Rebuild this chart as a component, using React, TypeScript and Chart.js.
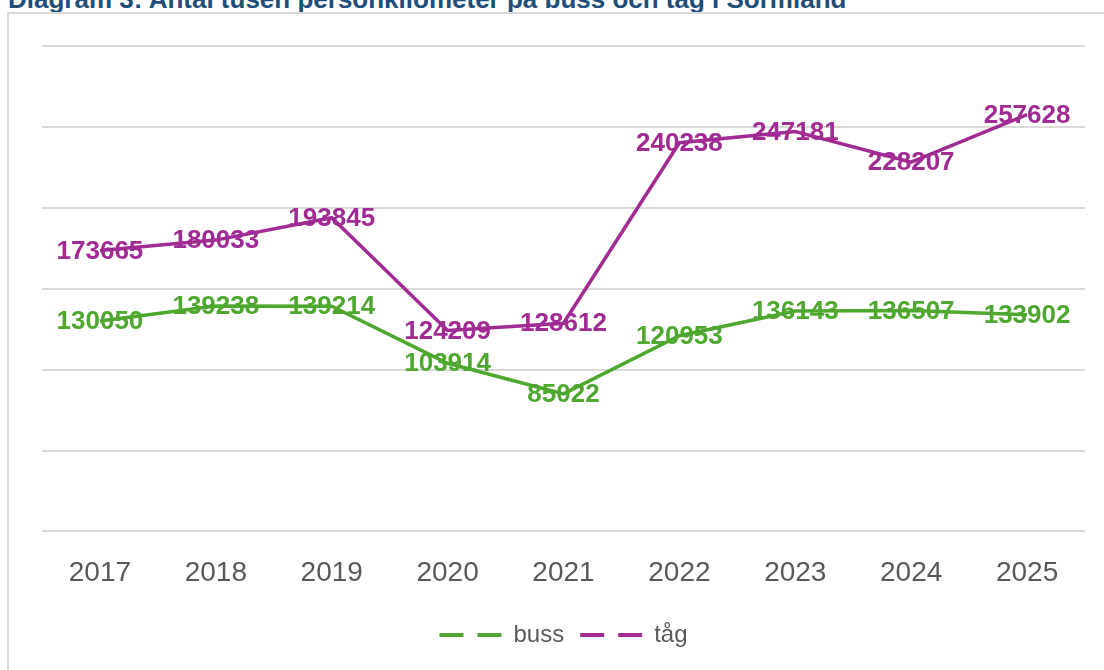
import React, { useEffect, useRef } from "react";
import { Chart, registerables } from "chart.js";

Chart.register(...registerables);

const years = ["2017", "2018", "2019", "2020", "2021", "2022", "2023", "2024", "2025"];
const buss = [130050, 139238, 139214, 103914, 85022, 120953, 136143, 136507, 133902];
const tag = [173665, 180033, 193845, 124209, 128612, 240238, 247181, 228207, 257628];
const seriesNames = ["buss", "tåg"];
const seriesColors = ["#4EA72E", "#A02B93"];
const titleText = "Diagram 3: Antal tusen personkilometer på buss och tåg i Sörmland";

const labelPlugin = {
  id: "valueLabels",
  afterDatasetsDraw(chart: any) {
    const ctx = chart.ctx;
    ctx.save();
    ctx.font = "bold 26px 'Liberation Sans', Arial, sans-serif";
    ctx.textAlign = "center";
    ctx.textBaseline = "middle";
    chart.data.datasets.forEach((ds: any, di: number) => {
      const meta = chart.getDatasetMeta(di);
      ctx.fillStyle = ds.borderColor;
      meta.data.forEach((pt: any, i: number) => {
        ctx.fillText(String(ds.data[i]), pt.x, pt.y + 1);
      });
    });
    ctx.restore();
  },
};

export default function App() {
  const ref = useRef<HTMLCanvasElement>(null);
  useEffect(() => {
    if (!ref.current) return;
    const chart = new Chart(ref.current, {
      type: "line",
      data: {
        labels: years,
        datasets: [
          { label: seriesNames[0], data: buss, borderColor: seriesColors[0], backgroundColor: seriesColors[0], borderWidth: 3.5, pointRadius: 0, tension: 0 },
          { label: seriesNames[1], data: tag, borderColor: seriesColors[1], backgroundColor: seriesColors[1], borderWidth: 3.5, pointRadius: 0, tension: 0 },
        ],
      },
      options: {
        animation: false,
        responsive: false,
        layout: { padding: { left: 42, right: 19, top: 46, bottom: 13 } },
        scales: {
          x: {
            offset: true,
            grid: { display: false },
            border: { display: false },
            ticks: { color: "#595959", padding: 17, font: { size: 28, family: "'Liberation Sans', Arial, sans-serif" } },
          },
          y: {
            min: 0,
            max: 300000,
            ticks: { display: false, stepSize: 50000 },
            grid: { color: "#d9d9d9", lineWidth: 2, drawTicks: false },
            border: { display: false },
          },
        },
        plugins: {
          tooltip: { enabled: false },
          legend: {
            position: "bottom",
            labels: {
              color: "#595959",
              font: { size: 24, family: "'Liberation Sans', Arial, sans-serif" },
              usePointStyle: true,
              pointStyleWidth: 62,
              padding: 16,
              generateLabels: (c: any) => {
                const items = (Chart.defaults.plugins.legend.labels as any).generateLabels(c);
                return items.map((it: any) => ({ ...it, pointStyle: "line", lineDash: [24, 14], lineWidth: 4, lineCap: "butt" }));
              },
            },
          },
        },
      },
      plugins: [labelPlugin],
    });
    return () => chart.destroy();
  }, []);

  return (
    <div style={{ position: "fixed", left: 0, top: 0, width: 1104, height: 670, overflow: "hidden", background: "#fff" }}>
      <div
        style={{
          position: "absolute",
          left: 8,
          top: -12,
          whiteSpace: "nowrap",
          font: "bold 26px 'Liberation Sans', Arial, sans-serif",
          lineHeight: "22px",
          color: "#1F4E79",
        }}
      >
        {titleText}
      </div>
      <div
        style={{
          position: "absolute",
          left: 7,
          top: 12,
          width: 1200,
          height: 800,
          borderLeft: "2px solid #d9d9d9",
          borderTop: "2px solid #d9d9d9",
        }}
      />
      <canvas ref={ref} width={1104} height={670} style={{ position: "absolute", left: 0, top: 0 }} />
    </div>
  );
}
